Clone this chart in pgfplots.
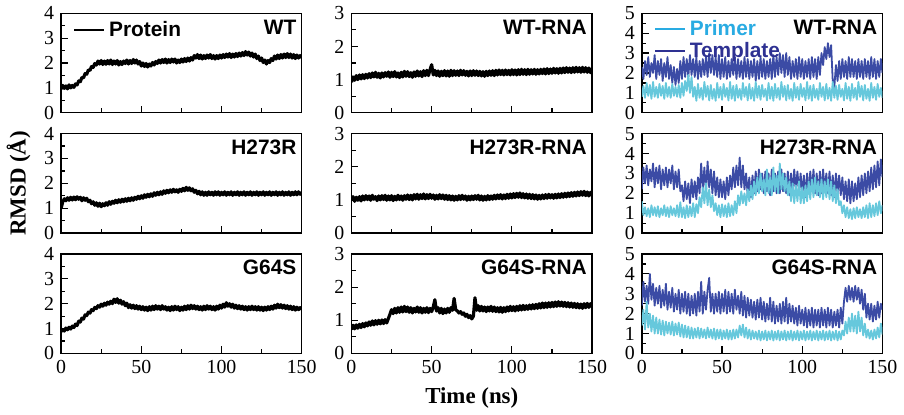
\documentclass[border=0pt]{standalone}
\usepackage{fontspec}
\setmainfont{Liberation Serif}
\setsansfont{Liberation Sans}
\usepackage{pgfplots}
\usepackage{pgfplotstable}
\pgfplotsset{compat=1.18}
\usepgfplotslibrary{groupplots}

\definecolor{primer}{RGB}{102,200,220}
\definecolor{template}{RGB}{59,75,165}
\definecolor{primerleg}{RGB}{41,171,226}
\definecolor{templateleg}{RGB}{46,49,146}

% protein / protein in RNA complex, RMSD in Angstrom
\pgfplotstableread{
t wt h2 g6 wr hr gr
0 0.95 0.98 0.88 0.92 0.98 0.72
1 1.10 1.25 0.96 1.08 1.10 0.85
2 0.98 1.38 0.90 0.98 0.96 0.74
3 1.08 1.30 1.02 1.12 1.08 0.86
4 0.96 1.42 0.95 1.00 0.99 0.76
5 1.12 1.32 1.05 1.14 1.10 0.88
6 1.00 1.44 0.98 1.02 0.97 0.78
7 1.10 1.33 1.10 1.15 1.12 0.90
8 1.02 1.45 1.04 1.03 1.00 0.80
9 1.16 1.34 1.18 1.16 1.13 0.92
10 1.12 1.46 1.12 1.05 1.01 0.83
11 1.28 1.36 1.30 1.18 1.12 0.95
12 1.25 1.44 1.26 1.06 0.99 0.85
13 1.42 1.30 1.42 1.20 1.14 0.98
14 1.40 1.42 1.38 1.08 1.02 0.86
15 1.58 1.32 1.55 1.22 1.10 0.99
16 1.55 1.40 1.52 1.07 0.98 0.88
17 1.72 1.26 1.66 1.19 1.12 1.00
18 1.70 1.32 1.62 1.05 1.00 0.89
19 1.86 1.18 1.76 1.20 1.13 1.01
20 1.82 1.26 1.72 1.08 1.01 0.90
21 1.98 1.12 1.85 1.21 1.14 1.02
22 1.92 1.22 1.80 1.10 0.99 0.92
23 2.08 1.08 1.92 1.23 1.12 1.05
24 1.96 1.20 1.86 1.07 1.00 1.18
25 2.10 1.06 1.98 1.22 1.13 1.32
26 1.94 1.18 1.90 1.09 0.98 1.20
27 2.08 1.10 2.02 1.24 1.11 1.36
28 1.95 1.22 1.94 1.08 1.00 1.22
29 2.10 1.12 2.06 1.20 1.14 1.38
30 1.96 1.26 1.98 1.06 1.01 1.24
31 2.12 1.16 2.10 1.22 1.12 1.40
32 1.94 1.28 2.00 1.08 0.99 1.25
33 2.08 1.20 2.18 1.25 1.13 1.42
34 1.96 1.32 2.05 1.10 1.02 1.26
35 2.10 1.22 2.20 1.24 1.15 1.40
36 1.92 1.34 2.02 1.09 1.01 1.24
37 2.06 1.24 2.14 1.21 1.14 1.38
38 1.94 1.36 1.98 1.07 1.00 1.22
39 2.08 1.26 2.08 1.23 1.16 1.36
40 1.98 1.38 1.92 1.10 1.03 1.25
41 2.12 1.28 2.02 1.26 1.17 1.40
42 1.96 1.40 1.84 1.11 1.02 1.24
43 2.10 1.30 1.96 1.24 1.16 1.38
44 1.98 1.42 1.82 1.09 1.04 1.22
45 2.14 1.32 1.94 1.27 1.18 1.36
46 2.00 1.44 1.80 1.12 1.03 1.24
47 2.12 1.36 1.92 1.28 1.16 1.38
48 1.96 1.48 1.78 1.12 1.04 1.23
49 2.06 1.38 1.90 1.30 1.17 1.36
50 1.88 1.50 1.76 1.45 1.05 1.26
51 2.00 1.40 1.88 1.14 1.15 1.40
52 1.86 1.54 1.74 1.28 1.02 1.62
53 1.98 1.44 1.86 1.12 1.14 1.28
54 1.84 1.56 1.72 1.26 1.03 1.38
55 1.96 1.46 1.88 1.10 1.16 1.22
56 1.88 1.58 1.74 1.25 1.04 1.36
57 2.02 1.48 1.90 1.12 1.15 1.20
58 1.92 1.62 1.76 1.27 1.02 1.34
59 2.06 1.52 1.92 1.11 1.14 1.22
60 1.98 1.64 1.78 1.26 1.01 1.36
61 2.12 1.54 1.90 1.10 1.13 1.24
62 2.00 1.66 1.76 1.28 1.00 1.38
63 2.14 1.56 1.92 1.12 1.12 1.30
64 2.02 1.70 1.78 1.27 0.99 1.66
65 2.16 1.60 1.88 1.13 1.11 1.32
66 2.00 1.72 1.74 1.26 1.00 1.28
67 2.14 1.62 1.86 1.12 1.13 1.22
68 2.02 1.74 1.72 1.28 1.01 1.26
69 2.16 1.64 1.88 1.14 1.14 1.18
70 2.04 1.76 1.74 1.27 1.02 1.22
71 2.16 1.66 1.90 1.13 1.12 1.12
72 2.00 1.74 1.76 1.25 0.99 1.18
73 2.12 1.64 1.88 1.11 1.11 1.08
74 2.02 1.76 1.72 1.26 1.00 1.14
75 2.16 1.68 1.86 1.12 1.12 1.04
76 2.04 1.80 1.74 1.27 1.01 1.12
77 2.18 1.70 1.90 1.13 1.13 1.68
78 2.06 1.84 1.76 1.26 1.02 1.30
79 2.20 1.72 1.92 1.12 1.14 1.44
80 2.08 1.82 1.78 1.25 1.00 1.28
81 2.22 1.70 1.94 1.11 1.12 1.42
82 2.12 1.78 1.80 1.24 0.99 1.28
83 2.30 1.64 1.92 1.10 1.11 1.40
84 2.20 1.72 1.78 1.25 1.00 1.26
85 2.34 1.58 1.90 1.12 1.13 1.40
86 2.18 1.68 1.76 1.26 1.01 1.28
87 2.32 1.54 1.88 1.13 1.12 1.42
88 2.16 1.66 1.74 1.27 1.02 1.27
89 2.30 1.52 1.90 1.12 1.14 1.40
90 2.18 1.64 1.76 1.28 1.03 1.26
91 2.32 1.52 1.92 1.14 1.15 1.38
92 2.20 1.66 1.78 1.29 1.04 1.25
93 2.34 1.54 1.90 1.15 1.16 1.39
94 2.18 1.64 1.76 1.28 1.03 1.24
95 2.30 1.52 1.88 1.14 1.15 1.38
96 2.16 1.66 1.74 1.29 1.04 1.26
97 2.30 1.54 1.90 1.15 1.17 1.40
98 2.18 1.66 1.78 1.28 1.05 1.28
99 2.32 1.52 1.94 1.14 1.18 1.42
100 2.20 1.64 1.82 1.30 1.06 1.29
101 2.34 1.54 1.98 1.15 1.19 1.41
102 2.22 1.66 1.86 1.29 1.07 1.28
103 2.36 1.52 2.04 1.14 1.20 1.42
104 2.24 1.64 1.90 1.30 1.08 1.30
105 2.38 1.54 2.00 1.15 1.21 1.44
106 2.22 1.66 1.86 1.31 1.07 1.31
107 2.36 1.52 1.98 1.16 1.19 1.45
108 2.24 1.64 1.82 1.30 1.06 1.32
109 2.38 1.54 1.94 1.15 1.18 1.44
110 2.26 1.66 1.80 1.31 1.05 1.33
111 2.40 1.52 1.92 1.16 1.17 1.46
112 2.28 1.64 1.78 1.30 1.04 1.34
113 2.42 1.54 1.90 1.17 1.16 1.47
114 2.30 1.66 1.76 1.31 1.03 1.35
115 2.46 1.52 1.88 1.16 1.15 1.48
116 2.32 1.64 1.74 1.30 1.02 1.36
117 2.44 1.54 1.88 1.17 1.14 1.50
118 2.28 1.66 1.76 1.31 1.03 1.37
119 2.40 1.52 1.90 1.18 1.15 1.52
120 2.24 1.64 1.76 1.32 1.04 1.38
121 2.36 1.54 1.88 1.17 1.16 1.52
122 2.18 1.66 1.74 1.33 1.05 1.39
123 2.28 1.52 1.88 1.18 1.17 1.53
124 2.10 1.64 1.74 1.32 1.06 1.40
125 2.20 1.54 1.86 1.19 1.16 1.54
126 2.02 1.66 1.72 1.34 1.05 1.41
127 2.12 1.52 1.86 1.20 1.17 1.55
128 1.96 1.64 1.74 1.33 1.06 1.42
129 2.10 1.54 1.88 1.19 1.18 1.56
130 2.02 1.66 1.76 1.34 1.07 1.43
131 2.18 1.52 1.90 1.20 1.19 1.55
132 2.10 1.64 1.78 1.35 1.08 1.42
133 2.28 1.54 1.94 1.21 1.20 1.54
134 2.16 1.66 1.82 1.36 1.09 1.41
135 2.32 1.52 1.98 1.22 1.21 1.53
136 2.18 1.64 1.84 1.35 1.10 1.40
137 2.34 1.54 1.96 1.21 1.22 1.52
138 2.20 1.66 1.82 1.36 1.11 1.39
139 2.36 1.52 1.94 1.22 1.23 1.51
140 2.22 1.64 1.80 1.37 1.12 1.38
141 2.38 1.54 1.92 1.23 1.24 1.50
142 2.22 1.66 1.78 1.36 1.13 1.37
143 2.36 1.52 1.90 1.22 1.25 1.49
144 2.20 1.64 1.76 1.37 1.14 1.36
145 2.34 1.54 1.88 1.23 1.26 1.50
146 2.18 1.66 1.74 1.36 1.13 1.38
147 2.32 1.54 1.86 1.22 1.24 1.51
148 2.20 1.66 1.76 1.35 1.12 1.39
149 2.30 1.56 1.84 1.21 1.23 1.50
150 2.22 1.64 1.78 1.34 1.14 1.40
}\protein

% RNA strands: primer (p) and template (t)
\pgfplotstableread{
t wp wt hp ht gp gt
0 0.80 2.30 1.60 2.20 1.40 2.40
1 1.35 1.70 0.90 3.30 2.20 3.60
2 0.75 2.60 1.30 2.50 1.20 2.60
3 1.50 1.90 0.85 3.40 2.60 3.40
4 0.85 2.80 1.25 2.40 1.30 2.50
5 1.40 1.80 0.80 3.20 2.00 4.00
6 0.70 2.50 1.40 2.60 1.10 2.70
7 1.55 2.00 0.90 3.50 1.90 3.50
8 0.80 2.90 1.30 2.30 1.00 2.40
9 1.30 1.70 0.85 3.30 1.80 3.30
10 0.75 2.60 1.35 2.50 1.00 2.50
11 1.45 1.90 0.80 3.40 1.70 3.40
12 0.85 2.70 1.25 2.20 0.95 2.30
13 1.35 1.60 0.90 3.20 1.65 3.20
14 0.70 2.50 1.40 2.40 0.90 2.40
15 1.50 1.80 0.85 3.30 1.60 3.50
16 0.80 2.80 1.30 2.30 1.00 2.20
17 1.30 1.70 0.80 3.20 1.55 3.10
18 0.75 2.40 1.35 2.50 0.95 2.30
19 1.45 1.50 0.90 3.40 1.60 3.30
20 0.85 2.30 1.25 2.20 0.90 2.10
21 1.30 1.40 0.85 3.10 1.50 3.00
22 0.80 2.20 1.40 2.30 0.95 2.20
23 1.40 1.50 0.80 3.20 1.55 3.20
24 0.75 2.60 1.55 2.10 0.85 2.00
25 1.50 1.70 0.80 2.40 1.45 3.00
26 0.85 2.80 1.30 1.60 0.80 2.10
27 1.60 1.80 0.75 2.60 1.40 3.10
28 1.10 2.70 1.40 1.70 0.80 2.00
29 1.90 1.80 0.80 2.50 1.35 3.00
30 1.00 2.90 1.35 1.50 0.75 1.90
31 1.80 1.90 0.85 2.70 1.30 2.90
32 0.80 2.70 1.50 1.80 0.75 2.00
33 1.30 1.80 0.80 2.60 1.25 3.00
34 0.60 2.80 1.45 1.70 0.80 1.90
35 1.45 1.70 1.00 2.80 1.30 3.10
36 0.75 2.60 1.80 2.00 0.75 2.10
37 1.25 1.80 1.30 3.50 1.25 3.60
38 0.65 2.70 2.30 2.20 0.80 2.00
39 1.55 1.90 1.50 3.30 1.20 3.10
40 0.80 2.80 2.50 2.10 0.75 2.20
41 1.35 1.80 1.40 3.60 1.30 3.20
42 0.62 3.00 2.20 2.30 0.80 3.80
43 1.40 2.00 1.30 3.20 1.20 2.10
44 0.70 2.90 1.90 2.00 0.75 3.00
45 1.20 1.90 1.10 3.10 1.25 2.00
46 0.60 2.80 1.50 1.90 0.70 3.00
47 1.50 1.80 0.90 2.80 1.20 2.10
48 0.75 2.90 1.40 1.80 0.75 3.10
49 1.30 1.70 0.80 2.70 1.20 2.00
50 0.65 2.70 1.45 1.80 0.70 3.00
51 1.45 1.80 0.85 2.60 1.15 2.10
52 0.80 2.80 1.40 1.70 0.75 3.20
53 1.25 1.70 0.80 2.80 1.20 2.00
54 0.62 2.60 1.50 1.90 0.70 3.10
55 1.55 1.80 0.85 2.90 1.15 2.10
56 0.70 2.70 1.40 2.20 0.70 3.00
57 1.35 1.90 0.90 3.30 1.20 2.00
58 0.60 2.80 1.60 2.30 0.75 3.20
59 1.40 1.70 1.00 3.40 1.20 2.20
60 0.75 2.70 1.90 2.40 0.80 2.90
61 1.20 1.80 1.40 3.80 1.40 2.00
62 0.65 2.60 2.10 2.30 0.90 3.10
63 1.50 1.70 1.50 3.40 1.45 1.90
64 0.80 2.80 2.00 2.20 0.80 2.90
65 1.30 1.80 1.40 3.00 1.30 1.80
66 0.62 2.70 2.20 1.90 0.75 2.80
67 1.45 1.70 1.60 2.80 1.20 1.90
68 0.70 2.60 2.40 1.80 0.70 2.70
69 1.25 1.80 1.70 2.90 1.15 1.80
70 0.60 2.70 2.60 2.00 0.75 2.60
71 1.55 1.60 1.90 3.10 1.10 1.70
72 0.75 2.60 2.80 2.10 0.70 2.70
73 1.35 1.70 2.00 3.20 1.15 1.80
74 0.65 2.80 3.00 2.20 0.65 2.80
75 1.40 1.80 2.10 3.00 1.10 1.70
76 0.80 2.70 2.70 2.00 0.70 2.60
77 1.20 1.70 1.90 3.10 1.15 1.60
78 0.62 2.60 3.20 2.10 0.65 2.50
79 1.50 1.80 2.00 3.00 1.10 1.70
80 0.70 2.70 2.80 1.90 0.70 2.80
81 1.30 1.70 1.90 3.20 1.15 1.60
82 0.60 2.90 3.30 2.10 0.65 2.60
83 1.45 1.80 2.10 3.00 1.10 1.50
84 0.75 2.80 2.90 2.00 0.70 2.40
85 1.25 1.90 2.00 3.10 1.15 1.60
86 0.65 3.00 3.50 2.00 0.65 2.50
87 1.55 2.00 2.20 3.20 1.10 1.50
88 0.80 2.90 3.00 2.10 0.70 2.60
89 1.35 1.80 2.10 3.00 1.15 1.60
90 0.62 3.00 2.80 2.00 0.65 2.80
91 1.40 1.90 1.90 3.10 1.10 1.50
92 0.70 2.80 2.60 1.90 0.70 2.50
93 1.20 1.70 1.60 3.00 1.15 1.60
94 0.60 2.60 2.50 2.00 0.65 2.40
95 1.50 1.80 1.50 3.20 1.10 1.50
96 0.75 2.70 2.40 2.20 0.70 2.30
97 1.30 1.70 1.60 3.10 1.15 1.40
98 0.65 2.80 2.60 2.10 0.65 2.40
99 1.45 1.80 1.50 3.00 1.10 1.50
100 0.80 2.70 2.30 1.90 0.70 2.20
101 1.25 1.70 1.50 2.90 1.15 1.40
102 0.62 2.60 2.40 1.80 0.65 2.30
103 1.55 1.80 1.60 3.00 1.10 1.30
104 0.70 2.70 2.60 2.00 0.70 2.20
105 1.35 1.70 1.70 3.10 1.15 1.40
106 0.60 2.80 2.70 2.10 0.65 2.30
107 1.40 1.80 1.80 3.20 1.10 1.30
108 0.75 2.70 2.80 2.00 0.70 2.20
109 1.20 1.70 1.90 3.00 1.15 1.40
110 0.65 2.80 2.60 1.90 0.65 2.20
111 1.50 1.90 1.80 3.10 1.10 1.30
112 0.80 3.00 2.70 2.00 0.70 2.30
113 1.30 2.40 1.70 3.20 1.15 1.40
114 0.62 3.30 2.60 2.10 0.65 2.20
115 1.45 2.70 1.80 3.00 1.10 1.30
116 0.70 3.50 2.70 2.00 0.70 2.30
117 1.25 2.80 1.70 3.10 1.15 1.40
118 0.60 3.40 2.60 1.90 0.65 2.20
119 1.55 1.60 1.60 2.90 1.10 1.30
120 0.75 1.30 2.40 1.80 0.70 2.10
121 1.35 2.40 1.50 3.00 1.15 1.40
122 0.65 1.60 2.20 2.00 0.65 2.20
123 1.40 2.60 1.40 2.90 1.10 1.30
124 0.80 1.70 1.60 1.90 0.70 2.30
125 1.20 2.70 1.00 2.80 1.15 1.50
126 0.62 1.80 1.40 1.70 0.90 2.60
127 1.50 2.60 0.80 2.60 1.60 3.30
128 0.70 1.70 1.30 1.60 1.00 2.60
129 1.30 2.80 0.75 2.70 1.80 3.40
130 0.60 1.80 1.20 1.50 1.10 2.70
131 1.45 2.70 0.70 2.60 2.00 3.30
132 0.75 1.80 1.25 1.60 1.10 2.60
133 1.25 2.60 0.75 2.50 1.90 3.40
134 0.65 1.70 1.30 1.70 1.00 2.70
135 1.55 2.70 0.80 2.80 2.10 3.30
136 0.80 1.80 1.20 1.80 1.10 2.50
137 1.35 2.60 0.75 2.90 1.80 3.20
138 0.62 1.70 1.30 1.90 0.90 2.20
139 1.40 2.70 0.80 3.00 1.50 3.00
140 0.70 1.80 1.40 2.00 0.80 1.80
141 1.20 2.60 0.75 3.10 1.20 2.50
142 0.60 1.70 1.50 2.10 0.75 1.70
143 1.50 2.80 0.80 3.30 1.15 2.50
144 0.75 1.80 1.40 2.20 0.70 1.60
145 1.30 2.70 0.85 3.40 1.20 2.40
146 0.65 1.70 1.50 2.30 0.75 1.70
147 1.45 2.60 0.90 3.60 1.30 2.60
148 0.80 1.80 1.60 2.40 0.80 1.80
149 1.25 2.70 1.00 3.70 1.50 2.50
150 0.75 2.00 1.40 2.80 0.95 2.20
}\rna

\tikzset{
  panel/.style={
    anchor=north east, inner sep=0pt,
    font=\sffamily\bfseries\fontsize{10.5}{11}\selectfont
  },
  trace/.style={line width=1.6pt, line join=round},
  strand/.style={line width=0.9pt, line join=round},
}

\begin{document}
\begin{tikzpicture}
\begin{groupplot}[
  group style={group size=3 by 3, horizontal sep=25pt, vertical sep=10.5pt,
    xticklabels at=edge bottom},
  scale only axis, width=121pt, height=50pt,
  xmin=0, xmax=150, xtick={0,50,100,150}, minor xtick={25,75,125},
  ymin=0, ytick distance=1, minor y tick num=1,
  xtick pos=bottom, ytick pos=left, tick align=inside,
  major tick length=3.5pt, minor tick length=2.2pt,
  axis line style={line width=0.75pt}, every tick/.style={line width=0.6pt},
  tick label style={font=\fontsize{10}{10}\selectfont},
  /pgf/number format/assume math mode=true,
  label style={font=\bfseries\fontsize{11.5}{12}\selectfont},
  legend style={draw=none, fill=none, inner sep=0pt,
    font=\sffamily\bfseries\fontsize{10.5}{11}\selectfont,
    cells={anchor=west}, row sep=-2pt},
  legend image code/.code={\draw[#1, line width=0.9pt] (0pt,0pt) -- (15pt,0pt);},
]
% row 1
\nextgroupplot[ymax=4,
  legend style={at={(axis description cs:0.05,0.965)}, anchor=north west}]
\addlegendimage{black}
\addlegendentry{Protein}
\addplot[black, trace, forget plot] table[x=t, y=wt] {\protein};
\node[panel] at ([xshift=-2.5pt,yshift=-3pt]rel axis cs:1,1) {WT};

\nextgroupplot[ymax=3]
\addplot[black, trace] table[x=t, y=wr] {\protein};
\node[panel] at ([xshift=-2.5pt,yshift=-3pt]rel axis cs:1,1) {WT-RNA};

\nextgroupplot[ymax=5,
  legend style={at={(axis description cs:0.05,0.975)}, anchor=north west}]
\addlegendimage{primerleg}
\addlegendentry{\textcolor{primerleg}{Primer}}
\addlegendimage{templateleg}
\addlegendentry{\textcolor{templateleg}{Template}}
\addplot[template, strand, forget plot] table[x=t, y=wt] {\rna};
\addplot[primer, strand, forget plot] table[x=t, y=wp] {\rna};
\node[panel] at ([xshift=-2.5pt,yshift=-3pt]rel axis cs:1,1) {WT-RNA};

% row 2
\nextgroupplot[ymax=4, ylabel={RMSD (Å)}]
\addplot[black, trace] table[x=t, y=h2] {\protein};
\node[panel] at ([xshift=-2.5pt,yshift=-3pt]rel axis cs:1,1) {H273R};

\nextgroupplot[ymax=3]
\addplot[black, trace] table[x=t, y=hr] {\protein};
\node[panel] at ([xshift=-2.5pt,yshift=-3pt]rel axis cs:1,1) {H273R-RNA};

\nextgroupplot[ymax=5]
\addplot[template, strand] table[x=t, y=ht] {\rna};
\addplot[primer, strand] table[x=t, y=hp] {\rna};
\node[panel] at ([xshift=-2.5pt,yshift=-3pt]rel axis cs:1,1) {H273R-RNA};

% row 3
\nextgroupplot[ymax=4]
\addplot[black, trace] table[x=t, y=g6] {\protein};
\node[panel] at ([xshift=-2.5pt,yshift=-3pt]rel axis cs:1,1) {G64S};

\nextgroupplot[ymax=3, xlabel={Time (ns)}]
\addplot[black, trace] table[x=t, y=gr] {\protein};
\node[panel] at ([xshift=-2.5pt,yshift=-3pt]rel axis cs:1,1) {G64S-RNA};

\nextgroupplot[ymax=5]
\addplot[template, strand] table[x=t, y=gt] {\rna};
\addplot[primer, strand] table[x=t, y=gp] {\rna};
\node[panel] at ([xshift=-2.5pt,yshift=-3pt]rel axis cs:1,1) {G64S-RNA};
\end{groupplot}
\end{tikzpicture}
\end{document}
